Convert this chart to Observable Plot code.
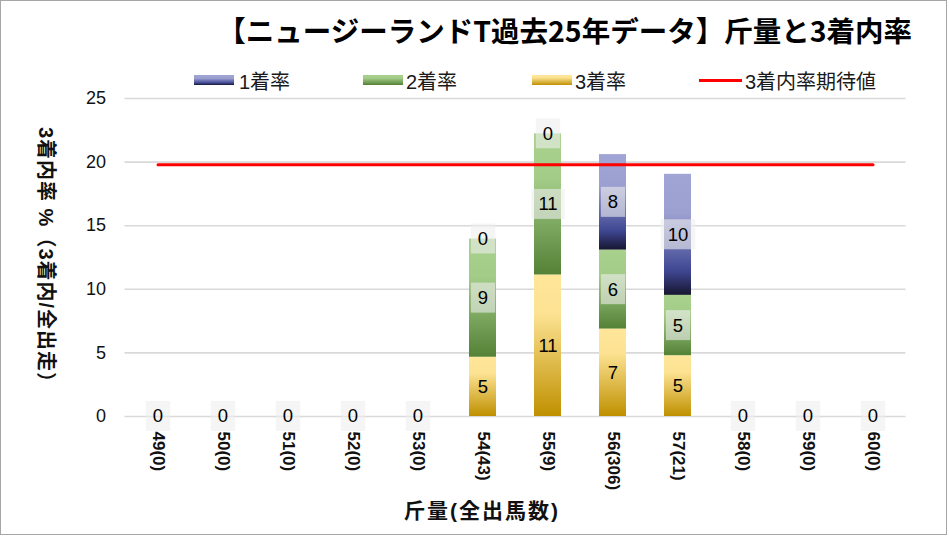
<!DOCTYPE html>
<html>
<head>
<meta charset="utf-8">
<script src="https://cdn.jsdelivr.net/npm/d3@7"></script>
<script src="https://cdn.jsdelivr.net/npm/@observablehq/plot@0.6"></script>
<style>
  body { margin: 0; background: #fff; }
  #wrap { position: relative; width: 949px; height: 536px; overflow: hidden;
          font-family: "Liberation Sans", "Noto Sans CJK JP", sans-serif; color: #111; background: #fff; }
  #frame { position: absolute; left: 0; top: 0; width: 947px; height: 535px; box-sizing: border-box;
           border: 1.5px solid #a6a6a6; pointer-events: none; z-index: 5; }
  #chart { position: absolute; left: 0; top: 0; }
  #title { position: absolute; right: 37px; top: 9px; font-family: "Noto Sans CJK JP", sans-serif;
           font-weight: 700; font-size: 28.5px; white-space: nowrap; z-index: 2; color: #000; }
  .lg { position: absolute; z-index: 2; }
  .sw { position: absolute; width: 40px; height: 10px; }
  .lt { position: absolute; font-size: 20px; white-space: nowrap; transform: translateY(-50%); color: #1a1a1a;
        font-family: "Liberation Sans", "Noto Sans CJK JP", sans-serif; }
  #ytitle { position: absolute; left: 47px; top: 260px; transform: translate(-50%, -50%) rotate(90deg);
            font-weight: 700; font-size: 20px; letter-spacing: 1px; white-space: nowrap; z-index: 2; color: #111; }
  #xtitle { position: absolute; left: 482px; top: 509px; transform: translate(-50%, -50%);
            font-weight: 700; font-size: 21px; letter-spacing: 2px; white-space: nowrap; z-index: 2; color: #111; }
</style>
</head>
<body>
<svg width="0" height="0" style="position:absolute">
  <defs>
    <linearGradient id="g1" x1="0" y1="0" x2="0" y2="1">
      <stop offset="0" stop-color="#a1a5d5"/>
      <stop offset="0.33" stop-color="#9ca0d0"/>
      <stop offset="0.8" stop-color="#3f4793"/>
      <stop offset="1" stop-color="#16162f"/>
    </linearGradient>
    <linearGradient id="g2" x1="0" y1="0" x2="0" y2="1">
      <stop offset="0" stop-color="#a9d18e"/>
      <stop offset="0.32" stop-color="#a3cc88"/>
      <stop offset="1" stop-color="#538135"/>
    </linearGradient>
    <linearGradient id="g3" x1="0" y1="0" x2="0" y2="1">
      <stop offset="0" stop-color="#ffe699"/>
      <stop offset="0.28" stop-color="#fce292"/>
      <stop offset="1" stop-color="#bf9000"/>
    </linearGradient>
  </defs>
</svg>
<div id="wrap">
  <div id="frame"></div>
  <div id="chart"></div>
  <div id="title">【ニュージーランドT過去25年データ】斤量と3着内率</div>
  <div id="legend"></div>
  <div id="ytitle">3着内率 %（3着内/全出走）</div>
  <div id="xtitle">斤量(全出馬数)</div>
</div>
<script>
// ---- data ----
const categories = ["49(0)", "50(0)", "51(0)", "52(0)", "53(0)", "54(43)", "55(9)", "56(306)", "57(21)", "58(0)", "59(0)", "60(0)"];
const seriesNames = ["1着率", "2着率", "3着率"];
const rate1 = [0, 0, 0, 0, 0, 0, 0, 7.52, 9.52, 0, 0, 0];
const rate2 = [0, 0, 0, 0, 0, 9.30, 11.11, 6.21, 4.76, 0, 0, 0];
const rate3 = [0, 0, 0, 0, 0, 4.65, 11.11, 6.86, 4.76, 0, 0, 0];
const expectedRate = 19.8;
const expectedLabel = "3着内率期待値";
const yTicks = [0, 5, 10, 15, 20, 25];

const gradients = {"1着率": "url(#g1)", "2着率": "url(#g2)", "3着率": "url(#g3)"};
const cssGradients = {
  "1着率": "linear-gradient(to bottom, #a1a5d5 0%, #9ca0d0 33%, #3f4793 80%, #16162f 100%)",
  "2着率": "linear-gradient(to bottom, #a9d18e 0%, #a3cc88 32%, #538135 100%)",
  "3着率": "linear-gradient(to bottom, #ffe699 0%, #fce292 28%, #bf9000 100%)"
};

const seriesValues = {"1着率": rate1, "2着率": rate2, "3着率": rate3};
const table = [];
categories.forEach((c, i) => {
  const total = rate1[i] + rate2[i] + rate3[i];
  for (const s of seriesNames) {
    const v = seriesValues[s][i];
    // in empty categories the three "0" labels coincide; show a single one
    const show = total > 0 || s === "1着率";
    table.push({cat: c, series: s, value: v, label: show ? String(Math.round(v)) : null});
  }
});
const stackOrder = ["3着率", "2着率", "1着率"];
const lineData = categories.map(c => ({cat: c, v: expectedRate}));

const stackOpts = (extra) => Plot.stackY({x: "cat", y: "value", z: "series", order: stackOrder, ...extra});

const plot = Plot.plot({
  width: 949,
  height: 536,
  marginTop: 98,
  marginBottom: 120,
  marginLeft: 124.5,
  marginRight: 43.5,
  style: {fontFamily: '"Liberation Sans", "Noto Sans CJK JP", sans-serif', background: "transparent", color: "#111"},
  x: {type: "band", domain: categories, paddingInner: 0.585, paddingOuter: 0.2925, label: null},
  y: {domain: [0, 25], label: null},
  color: {domain: seriesNames, range: seriesNames.map(s => gradients[s])},
  marks: [
    Plot.gridY(yTicks, {stroke: "#d9d9d9", strokeOpacity: 1, strokeWidth: 1.6}),
    Plot.axisY(yTicks, {tickSize: 0, tickPadding: 19, fontSize: 18, label: null, fill: "#111"}),
    Plot.axisX({tickSize: 0, tickPadding: 15, tickRotate: 90, fontSize: 17, fontWeight: "bold", label: null, fill: "#111"}),
    Plot.barY(table, stackOpts({fill: "series"})),
    Plot.lineY(lineData, {x: "cat", y: "v", stroke: "#ff0000", strokeWidth: 3}),
    Plot.text(table, stackOpts({text: d => d.series === "3着率" ? null : d.label, fontSize: 18.5, fill: "#000", className: "boxed"})),
    Plot.text(table, stackOpts({text: d => d.series === "3着率" ? d.label : null, fontSize: 18.5, fill: "#000"}))
  ]
});
document.getElementById("chart").append(plot);

// label background boxes behind 1着/2着 labels
plot.querySelectorAll("g.boxed text").forEach(t => {
  const b = t.getBBox();
  const cy = b.y + b.height / 2;
  const r = document.createElementNS("http://www.w3.org/2000/svg", "rect");
  r.setAttribute("x", b.x - 7);
  r.setAttribute("y", cy - 15);
  r.setAttribute("width", b.width + 14);
  r.setAttribute("height", 30);
  r.setAttribute("fill", "#eeeeee");
  r.setAttribute("fill-opacity", 0.6);
  const tr = t.getAttribute("transform");
  if (tr) r.setAttribute("transform", tr);
  t.parentNode.insertBefore(r, t);
});

// legend
const legend = document.getElementById("legend");
const legendItems = [
  {name: "1着率", sx: 194, tx: 239},
  {name: "2着率", sx: 363, tx: 406},
  {name: "3着率", sx: 532, tx: 575},
];
legendItems.forEach(it => {
  const sw = document.createElement("div");
  sw.className = "sw lg";
  sw.style.left = it.sx + "px"; sw.style.top = "75px";
  sw.style.background = cssGradients[it.name];
  legend.append(sw);
  const tx = document.createElement("div");
  tx.className = "lt lg";
  tx.style.left = it.tx + "px"; tx.style.top = "80px";
  tx.textContent = it.name;
  legend.append(tx);
});
const ln = document.createElement("div");
ln.className = "lg";
Object.assign(ln.style, {left: "699px", top: "78.5px", width: "43px", height: "3px", background: "#ff0000"});
legend.append(ln);
const lt = document.createElement("div");
lt.className = "lt lg";
lt.style.left = "745px"; lt.style.top = "80px";
lt.textContent = expectedLabel;
legend.append(lt);
</script>
</body>
</html>
